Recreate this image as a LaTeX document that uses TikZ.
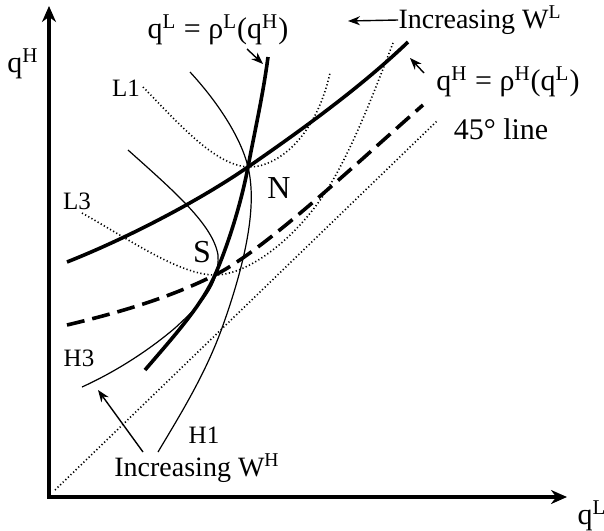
\documentclass[tikz,border=0pt]{standalone}
\usepackage{fontspec}
\setmainfont{Liberation Serif}
\usepackage{tikz}
\usetikzlibrary{arrows.meta}

\begin{document}
\begin{tikzpicture}[x=0.5pt, y=-0.5pt,
  axis/.style={line width=1.7pt, {Stealth[length=8pt, width=7pt]}-{Stealth[length=8pt, width=7pt]}},
  bestresp/.style={line width=1.8pt},
  brdash/.style={line width=1.8pt, dash pattern=on 9pt off 4pt},
  iso/.style={line width=0.6pt},
  dotcurve/.style={line width=0.8pt, dash pattern=on 0.6pt off 1.2pt},
  pointer/.style={-{Stealth[length=6pt, width=4.5pt]}, line width=0.7pt},
  tag/.style={font=\fontsize{15}{17}\selectfont, inner sep=0pt},
  inctag/.style={font=\fontsize{14}{16}\selectfont, inner sep=0pt},
  curvetag/.style={font=\fontsize{12.5}{14}\selectfont, inner sep=0pt},
  pointtag/.style={font=\fontsize{16}{18}\selectfont, inner sep=0pt}
]
\useasboundingbox (0,0) rectangle (604,530);

\coordinate (O) at (49,497);
\coordinate (ytip) at (49,6);
\coordinate (xtip) at (567,497);
\coordinate (N) at (248,167);
\coordinate (S) at (215,275);

\draw[axis] (ytip) -- (O) -- (xtip);
\node[tag] (ylab) at (23,64) {q\textsuperscript{H}};
\node[tag] (xlab) at (592,516) {q\textsuperscript{L}};

% 45 degree line and the L contours
\coordinate (diag0) at (55,490);
\coordinate (diag1) at (437,121);
\draw[dotcurve] (diag0) -- (diag1);
\draw[dotcurve] (143,87) .. controls (180,125) and (215,165) .. (N)
  .. controls (275,168) and (315,140) .. (330,73);
\draw[dotcurve] (82,213) .. controls (130,240) and (180,275) .. (S)
  .. controls (250,275) and (300,235) .. (330,185)
  .. controls (354,145) and (375,90) .. (393,43);

% H contours
\draw[iso] (190,72) .. controls (225,110) and (243,145) .. (N)
  .. controls (256,200) and (250,250) .. (222,328)
  .. controls (205,375) and (180,415) .. (158,452);
\draw[iso] (128,150) .. controls (175,192) and (213,225) .. (218,255)
  .. controls (220,285) and (200,305) .. (175,328)
  .. controls (148,351) and (115,372) .. (82,387);

% reaction functions
\draw[bestresp] (67,262) .. controls (130,237) and (200,200) .. (N)
  .. controls (300,131) and (360,88) .. (408,42);
\draw[brdash] (67,325) .. controls (130,310) and (175,295) .. (S)
  .. controls (265,250) and (360,160) .. (423,105);
\draw[bestresp] (268,57) .. controls (263,95) and (255,130) .. (N)
  .. controls (241,204) and (228,245) .. (S)
  .. controls (202,305) and (175,335) .. (145,370);

\node[tag] (rhoLlab) at (218,30) {q\textsuperscript{L} = ρ\textsuperscript{L}(q\textsuperscript{H})};
\node[tag] (rhoHlab) at (508,82) {q\textsuperscript{H} = ρ\textsuperscript{H}(q\textsuperscript{L})};
\node[tag] (diaglab) at (501,129) {45° line};
\node[inctag] (incL) at (480,20) {Increasing W\textsuperscript{L}};
\node[inctag] (incH) at (197,468) {Increasing W\textsuperscript{H}};

\node[curvetag] (L1lab) at (126,88) {L1};
\node[curvetag] (L3lab) at (77,201) {L3};
\node[curvetag] (H1lab) at (204,435) {H1};
\node[curvetag] (H3lab) at (79,358) {H3};
\node[pointtag] (Nlab) at (279,188) {N};
\node[pointtag] (Slab) at (202,252) {S};

\coordinate (rhoLtail) at (247,49);
\coordinate (rhoLtip) at (263,64);
\coordinate (rhoHtail) at (424,73);
\coordinate (rhoHtip) at (410,58);
\coordinate (incLtip) at (348,21);
\coordinate (incHtail) at (143,452);
\coordinate (incHtip) at (98,390);
\draw[pointer] (rhoLtail) -- (rhoLtip);
\draw[pointer] (rhoHtail) -- (rhoHtip);
\draw[pointer] (incL.west) -- (incLtip);
\draw[pointer] (incHtail) -- (incHtip);

\end{tikzpicture}
\end{document}
